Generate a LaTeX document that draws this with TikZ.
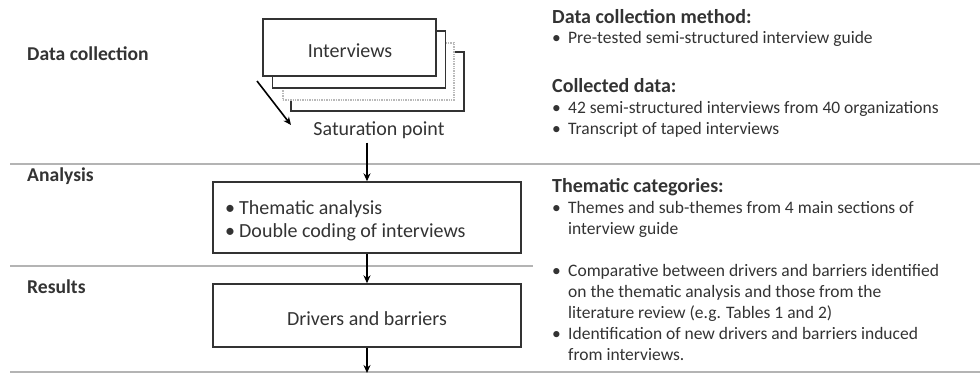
\documentclass[tikz,border=0pt]{standalone}
\usepackage{fontspec}
\setmainfont{Carlito}
\usetikzlibrary{arrows.meta,shadows}
\definecolor{ink}{HTML}{333333}
\definecolor{sep}{HTML}{B4B4B4}
\begin{document}
\begin{tikzpicture}[x=1pt,y=-1pt,
  every node/.style={inner sep=0, text=ink},
  card/.style={draw=ink, line width=1.4pt, fill=white, minimum width=173pt, minimum height=57pt},
  lightcard/.style={draw=gray!55, line width=1.4pt, densely dotted, fill=white, minimum width=171pt, minimum height=57pt},
  stagebox/.style={draw=ink, line width=1.4pt, fill=white, drop shadow={opacity=0.25, shadow xshift=1.2pt, shadow yshift=-1.2pt}},
  seprule/.style={draw=sep, line width=1.5pt},
  flow/.style={draw=black, line width=1.6pt, -{Stealth[length=8pt,width=7pt]}},
  stage/.style={anchor=base west, font=\fontsize{19.6}{23}\selectfont\bfseries},
  boxtext/.style={font=\fontsize{20}{23}\selectfont},
  head/.style={anchor=base west, font=\fontsize{20}{21}\selectfont\bfseries},
  item/.style={anchor=base west, font=\fontsize{17.5}{21}\selectfont},
]
\useasboundingbox (0,0) rectangle (980,373);
% separators
\draw[seprule] (10,164) -- (980,164);
\draw[seprule] (10,266) -- (533,266);
\draw[seprule] (10,372) -- (980,372);
% stage labels
\node[stage] (lab1) at (27,60) {Data collection};
\node[stage] (lab2) at (27,181) {Analysis};
\node[stage] (lab3) at (27,293) {Results};
% stack of interview cards
\node[card, minimum height=59pt] (card4) at (377.5,81.5) {};
\node[lightcard] (card3) at (368.5,71.5) {};
\node[card] (card2) at (359,59.5) {};
\node[card] (card1) at (349.5,47.5) {};
\node[boxtext, anchor=base] (inttext) at (350,57) {Interviews};
\node[boxtext] (sat) at (379,130) {Saturation point};
\coordinate (dstart) at (257,81);
\coordinate (dend) at (291,125);
\draw[flow] (dstart) -- (dend);
% analysis box
\node[stagebox, minimum width=308pt, minimum height=71pt] (ana) at (367,217.5) {};
\node[boxtext, anchor=base west] (a1) at (225,214) {\makebox[14pt][l]{•}Thematic analysis};
\node[boxtext, anchor=base west] (a2) at (225,237) {\makebox[14pt][l]{•}Double coding of interviews};
% results box
\node[stagebox, minimum width=308pt, minimum height=63pt] (res) at (367,315.5) {};
\node[boxtext, anchor=base] (restext) at (367,325) {Drivers and barriers};
\coordinate (bottom) at (367,373);
% arrows
\draw[flow] (sat.south -| ana.north) ++(0,4) -- (ana.north);
\draw[flow] (ana.south) -- (res.north);
\draw[flow] (res.south) -- (bottom);
% right column
\node[head] (h1) at (552,23) {Data collection method:};
\node[item] (m1) at (552,43) {\makebox[16pt][l]{•}Pre-tested semi-structured interview guide};
\node[head] (h2) at (552,92) {Collected data:};
\node[item] (c1) at (552,113) {\makebox[16pt][l]{•}42 semi-structured interviews from 40 organizations};
\node[item] (c2) at (552,134) {\makebox[16pt][l]{•}Transcript of taped interviews};
\node[head] (h3) at (552,192) {Thematic categories:};
\node[item] (t1) at (552,213) {\makebox[16pt][l]{•}Themes and sub-themes from 4 main sections of};
\node[item] (t2) at (552,234) {\hspace{16pt}interview guide};
\node[item] (r1) at (552,276) {\makebox[16pt][l]{•}Comparative between drivers and barriers identified};
\node[item] (r2) at (552,297) {\hspace{16pt}on the thematic analysis and those from the};
\node[item] (r3) at (552,318) {\hspace{16pt}literature review (e.g. Tables 1 and 2)};
\node[item] (r4) at (552,339) {\makebox[16pt][l]{•}Identification of new drivers and barriers induced};
\node[item] (r5) at (552,360) {\hspace{16pt}from interviews.};
\end{tikzpicture}
\end{document}
